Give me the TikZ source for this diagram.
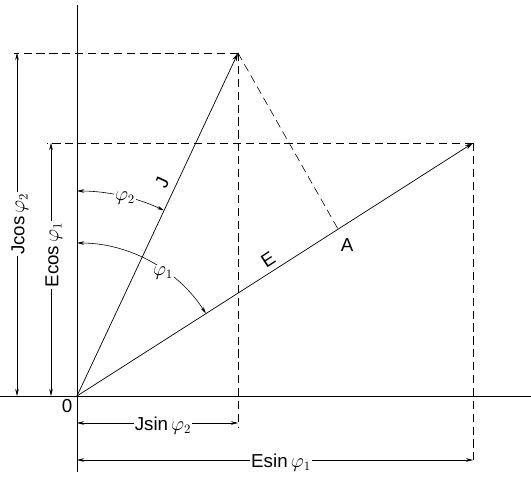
\documentclass[tikz,border=0pt]{standalone}
\usepackage{fontspec}
\setmainfont{Liberation Sans}
\usetikzlibrary{arrows.meta}

\begin{document}
\begin{tikzpicture}[x=0.03cm, y=0.03cm,
      vec/.style={-{Stealth[length=7pt,width=4pt]}, line width=0.6pt},
      aux/.style={dash pattern=on 7pt off 4pt, line width=0.5pt},
      dim/.style={{Stealth[length=6pt,width=3pt]}-{Stealth[length=6pt,width=3pt]}, line width=0.5pt},
      lbl/.style={font=\fontsize{16}{19}\selectfont, inner sep=1pt},
      cut/.style={lbl, fill=white}
    ]
      \useasboundingbox (-77,-81) rectangle (454,396);
      % axes
      \coordinate (O) at (0,0);
      \coordinate (ytop) at (0,391);
      \coordinate (ybot) at (0,-76);
      \coordinate (xl) at (-77,0);
      \coordinate (xr) at (454,0);
      \draw[line width=0.6pt] (ybot) -- (ytop);
      \draw[line width=0.6pt] (xl) -- (xr);
      \node[lbl] (zero) at (-10,-10) {0};
      % vectors
      \coordinate (Jt) at (161,343);
      \coordinate (Et) at (396,253);
      \coordinate (A) at (261,167);
      \draw[vec] (O) -- (Jt);
      \draw[vec] (O) -- (Et);
      \draw[aux] (Jt) -- (A);
      \node[lbl, rotate=65] (Jlab) at (85,213) {J};
      \node[lbl, rotate=33] (Elab) at (191,136) {E};
      \node[lbl] (Alab) at (270,151) {A};
      % projections
      \coordinate (Jl) at (-63,343);
      \coordinate (El) at (-30,253);
      \coordinate (Jb) at (161,-31);
      \coordinate (Eb) at (396,-69);
      \draw[aux] (Jt) -- (Jl);
      \draw[aux] (Et) -- (El);
      \draw[aux] (Jt) -- (Jb);
      \draw[aux] (Et) -- (Eb);
      % dimensions
      \coordinate (d1a) at (-60,0);
      \coordinate (d1b) at (-60,343);
      \coordinate (d2a) at (-26,0);
      \coordinate (d2b) at (-26,253);
      \coordinate (d3a) at (0,-27);
      \coordinate (d3b) at (161,-27);
      \coordinate (d4a) at (0,-64);
      \coordinate (d4b) at (396,-64);
      \draw[dim] (d1a) -- (d1b);
      \draw[dim] (d2a) -- (d2b);
      \draw[dim] (d3a) -- (d3b);
      \draw[dim] (d4a) -- (d4b);
      \node[cut, rotate=90] (jcos) at (-57,172) {Jcos\,$\varphi_2$};
      \node[cut, rotate=90] (ecos) at (-23,141) {Ecos\,$\varphi_1$};
      \node[cut] (jsin) at (86,-30) {Jsin\,$\varphi_2$};
      \node[cut] (esin) at (204,-67) {Esin\,$\varphi_1$};
      % angles
      \draw[dim] (0,205) arc[start angle=90, end angle=64.9, radius=205];
      \draw[dim] (0,153) arc[start angle=90, end angle=32.6, radius=153];
      \node[cut] (phi2) at (48,198) {$\varphi_2$};
      \node[cut] (phi1) at (86,123) {$\varphi_1$};
    \end{tikzpicture}
\end{document}
